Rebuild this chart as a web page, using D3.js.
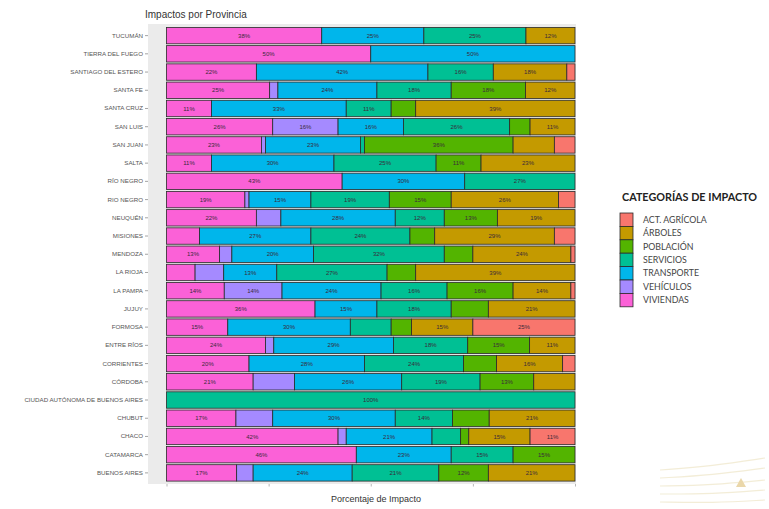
<!DOCTYPE html>
<html>
<head>
<meta charset="utf-8">
<script src="https://cdn.jsdelivr.net/npm/d3@7"></script>
<style>
body { margin: 0; background: #fff; }
</style>
</head>
<body>
<div id="chart"></div>
<script>
// provinces, top to bottom
var provinces = ["TUCUMÁN", "TIERRA DEL FUEGO", "SANTIAGO DEL ESTERO", "SANTA FE", "SANTA CRUZ",
    "SAN LUIS", "SAN JUAN", "SALTA", "RÍO NEGRO", "RIO NEGRO", "NEUQUÉN", "MISIONES", "MENDOZA",
    "LA RIOJA", "LA PAMPA", "JUJUY", "FORMOSA", "ENTRE RÍOS", "CORRIENTES", "CÓRDOBA",
    "CIUDAD AUTÓNOMA DE BUENOS AIRES", "CHUBUT", "CHACO", "CATAMARCA", "BUENOS AIRES"]

// stacking order, left to right
var categories = ["VIVIENDAS", "VEHÍCULOS", "TRANSPORTE", "SERVICIOS", "POBLACIÓN", "ÁRBOLES", "ACT. AGRÍCOLA"]
var legendOrder = ["ACT. AGRÍCOLA", "ÁRBOLES", "POBLACIÓN", "SERVICIOS", "TRANSPORTE", "VEHÍCULOS", "VIVIENDAS"]

// percentages per province (same order as provinces)
var viviendas  = [38, 50, 22, 25, 11, 26, 23, 11, 43, 19, 22, 8, 13, 7, 14, 36, 15, 24, 20, 21, 0, 17, 42, 46, 17]
var vehiculos  = [0, 0, 0, 2, 0, 16, 1, 0, 0, 1, 6, 0, 3, 7, 14, 0, 0, 2, 0, 10, 0, 9, 2, 0, 4]
var transporte = [25, 50, 42, 24, 33, 16, 23, 30, 30, 15, 28, 27, 20, 13, 24, 15, 30, 29, 28, 26, 0, 30, 21, 23, 24]
var servicios  = [25, 0, 16, 18, 11, 26, 1, 25, 27, 19, 12, 24, 32, 27, 16, 18, 10, 18, 24, 19, 100, 14, 7, 15, 21]
var poblacion  = [0, 0, 0, 18, 6, 5, 36, 11, 0, 15, 13, 6, 7, 7, 16, 9, 5, 15, 8, 13, 0, 9, 2, 15, 12]
var arboles    = [12, 0, 18, 12, 39, 11, 10, 23, 0, 26, 19, 29, 24, 39, 14, 21, 15, 11, 16, 10, 0, 21, 15, 0, 21]
var agricola   = [0, 0, 2, 0, 0, 0, 5, 0, 0, 4, 0, 5, 1, 0, 1, 0, 25, 0, 3, 0, 0, 0, 11, 0, 0]

var xTicks = [0, 0.25, 0.5, 0.75, 1]

var series = {
    "VIVIENDAS": viviendas,
    "VEHÍCULOS": vehiculos,
    "TRANSPORTE": transporte,
    "SERVICIOS": servicios,
    "POBLACIÓN": poblacion,
    "ÁRBOLES": arboles,
    "ACT. AGRÍCOLA": agricola
}

var rows = provinces.map(function (p, i) {
    var r = { provincia: p }
    categories.forEach(function (c) { r[c] = series[c][i] })
    return r
})

var stacked = d3.stack()
    .keys(categories)
    .offset(d3.stackOffsetExpand)(rows)

var width = 769
var height = 509
var axisFont = "'Liberation Sans', Arial, sans-serif"
var legendFont = "Lato, 'Open Sans', sans-serif"

var colorScale = d3.scaleOrdinal()
    .domain(legendOrder)
    .range(["#F8766D", "#C49A00", "#53B400", "#00C094", "#00B6EB", "#A58AFF", "#FB61D7"])

var xScale = d3.scaleLinear()
    .domain([0, 1])
    .range([166.5, 575])

var yScale = d3.scaleBand()
    .domain(provinces)
    .range([26.5, 482])
    .paddingInner(0.1)
    .paddingOuter(0.05)

var svg = d3.select("#chart")
    .append("svg")
    .attr("width", width)
    .attr("height", height)
    .style("display", "block")
    .style("background", "#fff")

// faint decoration bottom right
var deco = svg.append("g").attr("opacity", 0.55)
var decoLine = d3.line().curve(d3.curveBasis)
var decoRows = [[660, 470, 765, 458], [660, 478, 765, 468], [660, 486, 765, 480], [660, 494, 765, 490], [660, 502, 765, 500]]
decoRows.forEach(function (r) {
    deco.append("path")
        .attr("d", decoLine([[r[0], r[1]], [(r[0] + r[2]) / 2, (r[1] + r[3]) / 2 + 2], [r[2], r[3]]]))
        .attr("fill", "none")
        .attr("stroke", "#eadfb8")
        .attr("stroke-width", 1.2)
})
deco.append("path")
    .attr("d", "M736,487 L741,478 L746,487 Z")
    .attr("fill", "#d9b765")

// title
svg.append("text")
    .attr("x", 145)
    .attr("y", 18)
    .style("font-family", axisFont)
    .style("font-size", "10px")
    .style("fill", "#333")
    .text("Impactos por Provincia")

// panel background
svg.append("rect")
    .attr("x", 148)
    .attr("y", 24)
    .attr("width", 428)
    .attr("height", 460)
    .attr("fill", "#EBEBEB")

// bars
svg.append("g")
    .selectAll("g")
    .data(stacked)
    .enter()
    .append("g")
    .attr("fill", function (d) { return colorScale(d.key) })
    .selectAll("rect")
    .data(function (d) { return d.filter(function (s) { return s[1] - s[0] > 0 }) })
    .enter()
    .append("rect")
    .attr("x", function (d) { return xScale(d[0]) })
    .attr("y", function (d) { return yScale(d.data.provincia) })
    .attr("width", function (d) { return xScale(d[1]) - xScale(d[0]) })
    .attr("height", yScale.bandwidth())
    .attr("stroke", "#2a2a2a")
    .attr("stroke-width", 0.8)

// segment labels
var labels = []
stacked.forEach(function (layer) {
    layer.forEach(function (s) {
        var v = s.data[layer.key]
        if (v > 10) labels.push({ s: s, v: v })
    })
})

svg.append("g")
    .selectAll("text")
    .data(labels)
    .enter()
    .append("text")
    .attr("x", function (d) { return (xScale(d.s[0]) + xScale(d.s[1])) / 2 })
    .attr("y", function (d) { return yScale(d.s.data.provincia) + yScale.bandwidth() / 2 })
    .attr("dy", "0.35em")
    .attr("text-anchor", "middle")
    .style("font-family", axisFont)
    .style("font-size", "6px")
    .style("fill", "#3a2a3a")
    .text(function (d) { return d.v + "%" })

// y axis
var axisY = svg.append("g")
    .attr("transform", "translate(148,0)")
    .call(d3.axisLeft(yScale).tickSize(3).tickPadding(2))
axisY.select(".domain").remove()
axisY.selectAll("line").attr("stroke", "#666").attr("stroke-width", 0.6)
axisY.selectAll("text")
    .style("font-family", axisFont)
    .style("font-size", "6.2px")
    .style("fill", "#555")

// x axis (ticks only)
var axisX = svg.append("g")
    .attr("transform", "translate(0,484)")
    .call(d3.axisBottom(xScale).tickValues(xTicks).tickFormat("").tickSize(2.5))
axisX.select(".domain").remove()
axisX.selectAll("line").attr("stroke", "#888").attr("stroke-width", 0.6)

svg.append("text")
    .attr("x", 376)
    .attr("y", 502)
    .attr("text-anchor", "middle")
    .style("font-family", axisFont)
    .style("font-size", "9px")
    .style("fill", "#333")
    .text("Porcentaje de Impacto")

// legend
var legend = svg.append("g")

legend.append("text")
    .attr("x", 622)
    .attr("y", 201)
    .style("font-family", legendFont)
    .style("font-weight", "bold")
    .style("font-size", "10.8px")
    .style("fill", "#222")
    .text("CATEGORÍAS DE IMPACTO")

var keySize = 13.4

var items = legend.selectAll(".item")
    .data(legendOrder)
    .enter()
    .append("g")
    .attr("class", "item")
    .attr("transform", function (d, i) { return "translate(620," + (213 + i * keySize) + ")" })

items.append("rect")
    .attr("width", 13)
    .attr("height", keySize)
    .attr("fill", function (d) { return colorScale(d) })
    .attr("stroke", "#2a2a2a")
    .attr("stroke-width", 0.8)

items.append("text")
    .attr("x", 23)
    .attr("y", keySize / 2)
    .attr("dy", "0.35em")
    .style("font-family", legendFont)
    .style("font-size", "8.8px")
    .style("fill", "#444")
    .text(function (d) { return d })
</script>
</body>
</html>
